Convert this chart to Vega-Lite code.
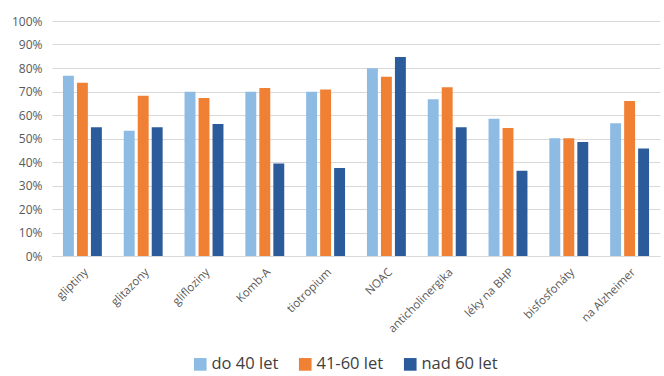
{
  "$schema": "https://vega.github.io/schema/vega-lite/v6.json",
  "autosize": "none",
  "width": 608,
  "height": 235,
  "padding": {"left": 52, "top": 21, "right": 4, "bottom": 120},
  "background": "white",
  "config": {
    "font": "Open Sans",
    "view": {"stroke": null}
  },
  "data": {
    "values": [
      {"lek": "gliptiny", "vek": "do 40 let", "p": 76.7},
      {"lek": "gliptiny", "vek": "41-60 let", "p": 73.7},
      {"lek": "gliptiny", "vek": "nad 60 let", "p": 54.8},
      {"lek": "glitazony", "vek": "do 40 let", "p": 53.3},
      {"lek": "glitazony", "vek": "41-60 let", "p": 68.2},
      {"lek": "glitazony", "vek": "nad 60 let", "p": 54.8},
      {"lek": "glifloziny", "vek": "do 40 let", "p": 69.9},
      {"lek": "glifloziny", "vek": "41-60 let", "p": 67.2},
      {"lek": "glifloziny", "vek": "nad 60 let", "p": 56.2},
      {"lek": "Komb-A", "vek": "do 40 let", "p": 69.9},
      {"lek": "Komb-A", "vek": "41-60 let", "p": 71.5},
      {"lek": "Komb-A", "vek": "nad 60 let", "p": 39.4},
      {"lek": "tiotropium", "vek": "do 40 let", "p": 69.9},
      {"lek": "tiotropium", "vek": "41-60 let", "p": 70.8},
      {"lek": "tiotropium", "vek": "nad 60 let", "p": 37.4},
      {"lek": "NOAC", "vek": "do 40 let", "p": 79.9},
      {"lek": "NOAC", "vek": "41-60 let", "p": 76.3},
      {"lek": "NOAC", "vek": "nad 60 let", "p": 84.7},
      {"lek": "anticholinergika", "vek": "do 40 let", "p": 66.7},
      {"lek": "anticholinergika", "vek": "41-60 let", "p": 71.8},
      {"lek": "anticholinergika", "vek": "nad 60 let", "p": 54.8},
      {"lek": "léky na BHP", "vek": "do 40 let", "p": 58.4},
      {"lek": "léky na BHP", "vek": "41-60 let", "p": 54.5},
      {"lek": "léky na BHP", "vek": "nad 60 let", "p": 36.3},
      {"lek": "bisfosfonáty", "vek": "do 40 let", "p": 50.1},
      {"lek": "bisfosfonáty", "vek": "41-60 let", "p": 50.1},
      {"lek": "bisfosfonáty", "vek": "nad 60 let", "p": 48.5},
      {"lek": "na Alzheimer", "vek": "do 40 let", "p": 56.5},
      {"lek": "na Alzheimer", "vek": "41-60 let", "p": 66.0},
      {"lek": "na Alzheimer", "vek": "nad 60 let", "p": 45.7}
    ]
  },
  "mark": {"type": "bar"},
  "encoding": {
    "x": {
      "field": "lek",
      "type": "nominal",
      "sort": null,
      "title": null,
      "scale": {"paddingInner": 0.36, "paddingOuter": 0.18},
      "axis": {
        "labelAngle": -45,
        "labelFontSize": 11.5,
        "labelColor": "#595959",
        "ticks": false,
        "domainColor": "#d9d9d9",
        "labelPadding": 10,
        "labelOverlap": false
      }
    },
    "xOffset": {
      "field": "vek",
      "type": "nominal",
      "sort": ["do 40 let", "41-60 let", "nad 60 let"],
      "scale": {"paddingInner": 0.22}
    },
    "y": {
      "field": "p",
      "type": "quantitative",
      "title": null,
      "scale": {"domain": [0, 100]},
      "axis": {
        "values": [0, 10, 20, 30, 40, 50, 60, 70, 80, 90, 100],
        "labelExpr": "datum.value + '%'",
        "labelFontSize": 12,
        "labelColor": "#595959",
        "labelPadding": 10,
        "ticks": false,
        "domain": false,
        "gridColor": "#d9d9d9"
      }
    },
    "color": {
      "field": "vek",
      "type": "nominal",
      "sort": ["do 40 let", "41-60 let", "nad 60 let"],
      "scale": {
        "domain": ["do 40 let", "41-60 let", "nad 60 let"],
        "range": ["#8dbbe3", "#ef8034", "#2c5b9b"]
      },
      "legend": {
        "title": null,
        "orient": "none",
        "direction": "horizontal",
        "legendX": 140,
        "legendY": 335,
        "symbolType": "square",
        "symbolSize": 160,
        "symbolOpacity": 1,
        "labelFontSize": 16.5,
        "labelColor": "#404040",
        "columnPadding": 18,
        "labelOffset": 3
      }
    }
  }
}
